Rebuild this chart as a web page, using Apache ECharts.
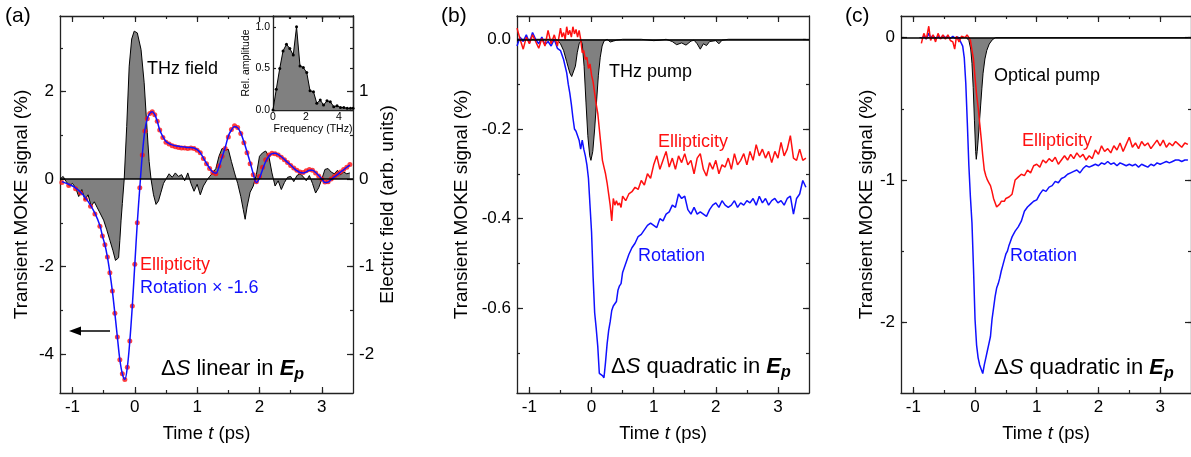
<!DOCTYPE html>
<html><head><meta charset="utf-8">
<script src="https://cdn.jsdelivr.net/npm/echarts@6/dist/echarts.min.js"></script>
<style>html,body{margin:0;padding:0;background:#fff}#c{width:1191px;height:457px}</style>
</head><body><div id="c"></div>
<script>
// ---------------- DATA ----------------
// Panel (a): time (ps), value (%)
const ellipticityA = [[-1.17,-0.08],[-1.06,-0.15],[-0.95,-0.22],[-0.87,-0.32],[-0.79,-0.46],[-0.71,-0.62],[-0.64,-0.8],[-0.56,-1.08],
[-0.52,-1.3],[-0.48,-1.5],[-0.44,-1.78],[-0.40,-2.14],[-0.36,-2.56],[-0.32,-3.07],[-0.28,-3.61],[-0.24,-4.13],[-0.20,-4.45],[-0.16,-4.58],[-0.12,-4.3],[-0.08,-3.7],[-0.04,-2.9],[0.0,-1.95],[0.04,-1.0],[0.08,-0.2],[0.12,0.55],[0.16,1.1],[0.20,1.38],[0.24,1.5],[0.28,1.54],[0.32,1.47],[0.36,1.32],[0.40,1.12],
[0.45,0.95],[0.5,0.84],[0.55,0.8],[0.6,0.76],[0.65,0.74],[0.7,0.72],[0.75,0.71],[0.8,0.71],[0.85,0.7],[0.9,0.71],[0.95,0.7],[1.0,0.66],[1.05,0.6],[1.1,0.47],[1.15,0.35],[1.2,0.24],[1.25,0.15],[1.3,0.12],[1.35,0.3],[1.4,0.52],[1.45,0.7],[1.5,0.96],[1.55,1.13],[1.6,1.22],[1.65,1.18],[1.7,1.04],[1.75,0.83],[1.8,0.6],[1.85,0.35],[1.9,0.1],[1.95,-0.06],[2.0,0.06],[2.05,0.27],[2.1,0.44],[2.15,0.55],[2.2,0.59],[2.25,0.58],[2.3,0.55],[2.35,0.5],[2.4,0.44],[2.45,0.38],[2.5,0.31],[2.55,0.25],[2.6,0.2],[2.65,0.16],[2.7,0.15],[2.75,0.19],[2.8,0.22],[2.85,0.2],[2.9,0.14],[2.95,0.07],[3.0,0.0],[3.05,-0.07],[3.1,-0.06],[3.15,0.0],[3.2,0.06],[3.25,0.11],[3.3,0.16],[3.35,0.22],[3.4,0.27],[3.45,0.33]];
const rotationA = [[-1.17,-0.06],[-1.06,-0.12],[-0.95,-0.2],[-0.87,-0.3],[-0.79,-0.43],[-0.71,-0.6],[-0.64,-0.78],[-0.56,-1.06],
[-0.52,-1.3],[-0.48,-1.5],[-0.44,-1.78],[-0.40,-2.14],[-0.36,-2.56],[-0.32,-3.07],[-0.28,-3.61],[-0.24,-4.13],[-0.20,-4.45],[-0.16,-4.58],[-0.12,-4.3],[-0.08,-3.7],[-0.04,-2.9],[0.0,-1.95],[0.04,-1.0],[0.08,-0.2],[0.12,0.55],[0.16,1.1],[0.20,1.38],[0.24,1.5],[0.28,1.54],[0.32,1.47],[0.36,1.32],[0.40,1.12],
[0.45,0.97],[0.5,0.86],[0.55,0.81],[0.6,0.78],[0.65,0.76],[0.7,0.75],[0.75,0.74],[0.8,0.73],[0.85,0.72],[0.9,0.72],[0.95,0.71],[1.0,0.67],[1.05,0.6],[1.1,0.48],[1.15,0.36],[1.2,0.25],[1.25,0.16],[1.3,0.13],[1.35,0.28],[1.4,0.5],[1.45,0.72],[1.5,0.98],[1.55,1.12],[1.6,1.2],[1.65,1.17],[1.7,1.05],[1.75,0.85],[1.8,0.62],[1.85,0.38],[1.9,0.12],[1.95,-0.08],[2.0,0.02],[2.05,0.22],[2.1,0.4],[2.15,0.52],[2.2,0.58],[2.25,0.59],[2.3,0.56],[2.35,0.51],[2.4,0.45],[2.45,0.38],[2.5,0.32],[2.55,0.25],[2.6,0.19],[2.65,0.15],[2.7,0.14],[2.75,0.16],[2.8,0.2],[2.85,0.2],[2.9,0.15],[2.95,0.08],[3.0,0.0],[3.05,-0.08],[3.1,-0.07],[3.15,-0.01],[3.2,0.05],[3.25,0.1],[3.3,0.16],[3.35,0.21],[3.4,0.27],[3.45,0.32]];
// THz electric field (arb. units, right axis)
const fieldA = [[-1.2,0.0],[-1.15,0.03],[-1.1,-0.03],[-1.05,-0.08],[-1.0,-0.05],[-0.95,-0.1],[-0.9,-0.2],[-0.85,-0.12],[-0.8,-0.24],[-0.75,-0.18],[-0.7,-0.31],[-0.65,-0.26],[-0.6,-0.33],[-0.55,-0.4],[-0.5,-0.47],[-0.45,-0.58],[-0.4,-0.7],[-0.35,-0.82],[-0.31,-0.93],[-0.29,-0.945],[-0.26,-0.9],[-0.24,-0.7],[-0.22,-0.47],[-0.2,-0.28],[-0.17,0.0],[-0.13,0.6],[-0.09,1.29],[-0.05,1.6],[-0.01,1.69],[0.04,1.67],[0.1,1.48],[0.15,1.1],[0.2,0.53],[0.23,0.2],[0.26,0.0],[0.3,-0.18],[0.34,-0.29],[0.38,-0.25],[0.42,-0.15],[0.46,-0.05],[0.5,0.0],[0.55,0.06],[0.6,0.02],[0.65,0.07],[0.7,0.03],[0.75,0.05],[0.8,-0.02],[0.85,0.07],[0.9,-0.05],[0.95,-0.14],[1.0,-0.06],[1.05,-0.18],[1.1,-0.08],[1.15,-0.02],[1.2,0.03],[1.25,0.07],[1.3,0.12],[1.35,0.26],[1.4,0.35],[1.45,0.33],[1.5,0.34],[1.55,0.2],[1.6,0.07],[1.65,-0.05],[1.7,-0.2],[1.74,-0.35],[1.77,-0.46],[1.8,-0.32],[1.85,-0.15],[1.9,-0.08],[1.95,0.05],[2.0,0.26],[2.05,0.3],[2.1,0.32],[2.15,0.26],[2.2,0.07],[2.25,-0.08],[2.3,-0.02],[2.35,-0.12],[2.4,-0.04],[2.45,0.02],[2.5,0.03],[2.55,-0.03],[2.6,0.04],[2.65,0.06],[2.7,0.03],[2.75,-0.02],[2.8,0.04],[2.85,-0.05],[2.9,-0.16],[2.95,-0.1],[3.0,0.0],[3.05,0.11],[3.1,0.12],[3.15,0.08],[3.2,0.06],[3.25,0.1],[3.3,0.05],[3.35,0.08],[3.4,0.06],[3.45,0.07]];
// Inset: frequency (THz), relative amplitude
const spectrumA = [[0,0],[0.2,0.25],[0.41,0.5],[0.61,0.71],[0.82,0.79],[1.02,0.74],[1.23,0.66],[1.43,1.0],[1.64,0.53],[1.84,0.51],[2.05,0.45],[2.25,0.23],[2.46,0.22],[2.66,0.08],[2.87,0.12],[3.07,0.06],[3.28,0.11],[3.48,0.1],[3.69,0.04],[3.89,0.05],[4.1,0.03],[4.3,0.03],[4.51,0.02],[4.71,0.02],[4.86,0.02]];

// Panel (b)
const ellipticityB = [[-1.2,0.025],[-1.15,0.0],[-1.1,-0.022],[-1.05,0.005],[-1.0,-0.01],[-0.95,0.01],[-0.9,-0.005],[-0.85,-0.02],[-0.8,0.002],[-0.75,-0.015],[-0.7,0.02],[-0.65,-0.01],[-0.6,0.01],[-0.55,-0.015],[-0.5,0.025],[-0.475,0.005],[-0.45,0.015],[-0.425,0.0],[-0.4,0.028],[-0.375,0.01],[-0.35,0.02],[-0.325,0.005],[-0.3,0.028],[-0.275,0.012],[-0.25,0.022],[-0.225,0.005],[-0.2,0.02],[-0.175,0.0],[-0.15,-0.03],[-0.125,-0.025],[-0.1,-0.045],[-0.075,-0.04],[-0.05,-0.065],[-0.025,-0.055],[0.0,-0.08],[0.025,-0.095],[0.05,-0.12],[0.075,-0.145],[0.1,-0.165],[0.125,-0.2],[0.15,-0.235],[0.175,-0.27],[0.2,-0.285],[0.225,-0.3],[0.25,-0.32],[0.275,-0.345],[0.3,-0.37],[0.325,-0.405],[0.35,-0.355],[0.375,-0.37],[0.4,-0.36],[0.425,-0.37],[0.45,-0.365],[0.475,-0.375],[0.5,-0.35],
[0.55,-0.36],[0.6,-0.345],[0.65,-0.34],[0.7,-0.33],[0.75,-0.335],[0.8,-0.315],[0.85,-0.325],[0.9,-0.3],[0.95,-0.31],[1.0,-0.28],[1.05,-0.26],[1.1,-0.29],[1.15,-0.27],[1.2,-0.25],[1.25,-0.285],[1.3,-0.265],[1.35,-0.29],[1.4,-0.26],[1.45,-0.275],[1.5,-0.255],[1.55,-0.28],[1.6,-0.27],[1.65,-0.3],[1.7,-0.265],[1.75,-0.255],[1.8,-0.29],[1.85,-0.305],[1.9,-0.275],[1.95,-0.29],[2.0,-0.27],[2.05,-0.3],[2.1,-0.28],[2.15,-0.285],[2.2,-0.265],[2.25,-0.29],[2.3,-0.255],[2.35,-0.28],[2.4,-0.27],[2.45,-0.255],[2.5,-0.28],[2.55,-0.25],[2.6,-0.27],[2.65,-0.235],[2.7,-0.26],[2.75,-0.245],[2.8,-0.265],[2.85,-0.25],[2.9,-0.275],[2.95,-0.25],[3.0,-0.265],[3.05,-0.23],[3.1,-0.26],[3.15,-0.245],[3.2,-0.215],[3.25,-0.265],[3.3,-0.27],[3.35,-0.245],[3.4,-0.27],[3.45,-0.265]];
const rotationB = [[-1.2,-0.015],[-1.15,0.005],[-1.1,-0.005],[-1.05,0.01],[-1.0,-0.008],[-0.95,0.015],[-0.9,0.0],[-0.85,-0.01],[-0.8,0.005],[-0.75,-0.012],[-0.7,-0.005],[-0.65,-0.015],[-0.6,0.0],[-0.55,-0.02],[-0.5,-0.025],[-0.475,-0.035],[-0.45,-0.045],[-0.425,-0.06],[-0.4,-0.075],[-0.375,-0.1],[-0.35,-0.12],[-0.325,-0.145],[-0.3,-0.175],[-0.275,-0.2],[-0.25,-0.205],[-0.225,-0.215],[-0.2,-0.225],[-0.175,-0.245],[-0.15,-0.225],[-0.125,-0.245],[-0.1,-0.26],[-0.075,-0.28],[-0.05,-0.31],[-0.025,-0.37],[0.0,-0.43],[0.025,-0.53],[0.05,-0.61],[0.075,-0.645],[0.1,-0.685],[0.125,-0.745],[0.15,-0.745],[0.175,-0.75],[0.2,-0.755],[0.225,-0.72],[0.25,-0.68],[0.275,-0.65],[0.3,-0.63],[0.325,-0.605],[0.35,-0.595],[0.375,-0.59],[0.4,-0.585],[0.425,-0.56],[0.45,-0.55],[0.475,-0.545],[0.5,-0.52],
[0.55,-0.5],[0.6,-0.48],[0.65,-0.465],[0.7,-0.455],[0.75,-0.44],[0.8,-0.435],[0.85,-0.425],[0.9,-0.415],[0.95,-0.41],[1.0,-0.415],[1.05,-0.42],[1.1,-0.4],[1.15,-0.405],[1.2,-0.39],[1.25,-0.385],[1.3,-0.37],[1.35,-0.375],[1.4,-0.345],[1.45,-0.355],[1.5,-0.35],[1.55,-0.38],[1.6,-0.39],[1.65,-0.375],[1.7,-0.39],[1.75,-0.385],[1.8,-0.39],[1.85,-0.395],[1.9,-0.38],[1.95,-0.37],[2.0,-0.365],[2.05,-0.375],[2.1,-0.36],[2.15,-0.37],[2.2,-0.375],[2.25,-0.37],[2.3,-0.36],[2.35,-0.375],[2.4,-0.365],[2.45,-0.37],[2.5,-0.36],[2.55,-0.365],[2.6,-0.355],[2.65,-0.37],[2.7,-0.35],[2.75,-0.365],[2.8,-0.355],[2.85,-0.37],[2.9,-0.36],[2.95,-0.355],[3.0,-0.365],[3.05,-0.36],[3.1,-0.37],[3.15,-0.355],[3.2,-0.35],[3.25,-0.39],[3.3,-0.355],[3.35,-0.345],[3.4,-0.315],[3.45,-0.33]];
const pumpB = [[-1.2,0],[-0.6,0],[-0.55,-0.002],[-0.5,-0.01],[-0.45,-0.025],[-0.4,-0.05],[-0.35,-0.075],[-0.32,-0.083],[-0.29,-0.08],[-0.26,-0.06],[-0.23,-0.03],[-0.2,-0.01],[-0.17,-0.003],[-0.15,-0.01],[-0.12,-0.06],[-0.09,-0.14],[-0.06,-0.215],[-0.03,-0.26],[-0.01,-0.27],[0.02,-0.25],[0.05,-0.2],[0.08,-0.14],[0.11,-0.08],[0.14,-0.04],[0.17,-0.015],[0.2,-0.004],[0.25,0],[0.3,-0.006],[0.35,-0.004],[0.4,-0.002],[0.5,0],[0.8,0],[1.0,-0.003],[1.1,-0.002],[1.2,0],[1.3,-0.005],[1.37,-0.012],[1.45,-0.008],[1.52,-0.013],[1.6,-0.004],[1.65,-0.002],[1.7,-0.01],[1.75,-0.022],[1.8,-0.01],[1.85,-0.014],[1.9,-0.005],[2.0,-0.003],[2.05,-0.01],[2.1,-0.002],[2.2,0],[3.45,0]];

// Panel (c)
const ellipticityC = [[-0.87,-0.04],[-0.83,0.03],[-0.79,-0.01],[-0.75,0.08],[-0.72,-0.02],[-0.68,0.02],[-0.64,-0.03],[-0.6,0.03],[-0.56,-0.01],[-0.52,0.02],[-0.48,-0.01],[-0.44,0.02],[-0.4,-0.02],[-0.36,-0.03],[-0.33,-0.08],[-0.3,0.01],[-0.26,-0.03],[-0.22,0.01],[-0.19,0.02],[-0.16,0.0],[-0.13,0.02],[-0.1,0.0],[-0.075,-0.02],[-0.05,-0.09],[-0.025,-0.15],[0.0,-0.28],[0.025,-0.4],[0.05,-0.49],[0.075,-0.6],[0.1,-0.71],[0.125,-0.83],[0.15,-0.93],[0.175,-0.97],[0.2,-1.0],[0.225,-1.02],[0.25,-1.04],[0.275,-1.08],[0.3,-1.13],[0.325,-1.16],[0.35,-1.19],[0.375,-1.2],[0.4,-1.17],[0.425,-1.15],[0.45,-1.14],[0.475,-1.15],[0.5,-1.13],[0.525,-1.14],[0.55,-1.12],[0.575,-1.13],[0.6,-1.1],
[0.65,-1.0],[0.7,-0.98],[0.75,-0.96],[0.8,-0.97],[0.85,-0.93],[0.9,-0.95],[0.95,-0.9],[1.0,-0.89],[1.05,-0.91],[1.1,-0.86],[1.15,-0.88],[1.2,-0.85],[1.25,-0.87],[1.3,-0.84],[1.35,-0.89],[1.4,-0.86],[1.45,-0.83],[1.5,-0.86],[1.55,-0.82],[1.6,-0.85],[1.65,-0.81],[1.7,-0.84],[1.75,-0.82],[1.8,-0.86],[1.85,-0.83],[1.9,-0.85],[1.95,-0.79],[2.0,-0.82],[2.05,-0.76],[2.1,-0.8],[2.15,-0.78],[2.2,-0.81],[2.25,-0.76],[2.3,-0.79],[2.35,-0.74],[2.4,-0.8],[2.45,-0.75],[2.5,-0.7],[2.55,-0.77],[2.6,-0.74],[2.65,-0.78],[2.7,-0.73],[2.75,-0.76],[2.8,-0.74],[2.85,-0.78],[2.9,-0.75],[2.95,-0.72],[3.0,-0.76],[3.05,-0.72],[3.1,-0.77],[3.15,-0.74],[3.2,-0.76],[3.25,-0.73],[3.3,-0.75],[3.35,-0.77],[3.4,-0.74],[3.45,-0.75]];
const rotationC = [[-0.87,-0.005],[-0.83,0.01],[-0.79,-0.01],[-0.75,0.03],[-0.72,0.0],[-0.68,0.015],[-0.64,-0.01],[-0.6,0.01],[-0.56,-0.005],[-0.52,0.015],[-0.48,0.0],[-0.44,0.01],[-0.4,-0.005],[-0.36,0.01],[-0.32,-0.005],[-0.28,0.005],[-0.25,-0.015],[-0.2,-0.06],[-0.175,-0.14],[-0.15,-0.32],[-0.125,-0.6],[-0.1,-0.9],[-0.075,-1.12],[-0.05,-1.3],[-0.025,-1.62],[0.0,-1.98],[0.025,-2.16],[0.05,-2.25],[0.075,-2.3],[0.1,-2.33],[0.125,-2.36],[0.15,-2.3],[0.175,-2.25],[0.2,-2.2],[0.225,-2.15],[0.25,-2.1],[0.275,-1.98],[0.3,-1.9],[0.325,-1.82],[0.35,-1.76],[0.375,-1.73],[0.4,-1.69],[0.425,-1.64],[0.45,-1.6],[0.475,-1.56],[0.5,-1.52],[0.525,-1.5],[0.55,-1.46],[0.575,-1.43],[0.6,-1.4],
[0.65,-1.36],[0.7,-1.33],[0.75,-1.29],[0.8,-1.22],[0.85,-1.19],[0.9,-1.17],[0.95,-1.15],[1.0,-1.14],[1.05,-1.1],[1.1,-1.07],[1.15,-1.08],[1.2,-1.05],[1.25,-1.04],[1.3,-1.01],[1.35,-1.02],[1.4,-0.99],[1.45,-0.98],[1.5,-0.96],[1.55,-0.95],[1.6,-0.94],[1.65,-0.93],[1.7,-0.95],[1.75,-0.92],[1.8,-0.9],[1.85,-0.91],[1.9,-0.9],[1.95,-0.89],[2.0,-0.9],[2.05,-0.88],[2.1,-0.89],[2.15,-0.87],[2.2,-0.89],[2.25,-0.88],[2.3,-0.9],[2.35,-0.88],[2.4,-0.89],[2.45,-0.9],[2.5,-0.89],[2.55,-0.9],[2.6,-0.89],[2.65,-0.91],[2.7,-0.89],[2.75,-0.9],[2.8,-0.91],[2.85,-0.89],[2.9,-0.9],[2.95,-0.88],[3.0,-0.89],[3.05,-0.88],[3.1,-0.87],[3.15,-0.88],[3.2,-0.87],[3.25,-0.86],[3.3,-0.86],[3.35,-0.87],[3.4,-0.86],[3.45,-0.86]];
const pumpC = [[-0.9,0],[-0.14,0],[-0.1,-0.02],[-0.07,-0.08],[-0.05,-0.18],[-0.03,-0.35],[-0.01,-0.58],[0.01,-0.8],[0.02,-0.855],[0.035,-0.8],[0.05,-0.72],[0.07,-0.6],[0.09,-0.48],[0.11,-0.36],[0.13,-0.25],[0.16,-0.15],[0.19,-0.09],[0.23,-0.045],[0.28,-0.015],[0.33,0],[3.45,0]];

// Ticks
const timeTicks = [-1, 0, 1, 2, 3];
const timeMinor = [-1, -0.5, 0, 0.5, 1, 1.5, 2, 2.5, 3];
const yTicksA = [-4, -2, 0, 2];
const yMinorA = [-4, -3, -2, -1, 0, 1, 2, 3];
const fieldTicksA = [-2, -1, 0, 1];
const fieldMinorA = [-2, -1.5, -1, -0.5, 0, 0.5, 1, 1.5];
const yTicksB = [-0.6, -0.4, -0.2, 0];
const yMinorB = [-0.7, -0.6, -0.5, -0.4, -0.3, -0.2, -0.1, 0];
const yTicksC = [-2, -1, 0];
const yMinorC = [-2, -1.5, -1, -0.5, 0];
const freqTicks = [0, 2, 4];
const freqMinor = [0, 1, 2, 3, 4];
const ampTicks = [0, 0.5, 1.0];

// ---------------- BUILD ----------------
const FONT = '"Liberation Sans", Arial, Helvetica, sans-serif';
const AX = '#222';
const xAxes = [], yAxes = [];
function ax(o) {
  const a = {
    gridIndex: o.gi, type: 'value', min: o.min, max: o.max, position: o.pos,
    axisLine: {show: !!o.line, onZero: false, lineStyle: {color: AX, width: 1.3}},
    axisTick: o.ticks ? {show: true, inside: true, length: o.len, customValues: o.ticks, lineStyle: {color: AX, width: 1.2}} : {show: false},
    axisLabel: o.labels ? {show: true, customValues: o.labels, formatter: o.fmt, fontSize: o.fs || 17, fontFamily: FONT, color: '#000', margin: o.margin || 6} : {show: false},
    splitLine: {show: false}
  };
  if (o.name) {
    a.name = o.name; a.nameLocation = 'middle'; a.nameGap = o.nameGap;
    if (o.nameRotate !== undefined) a.nameRotate = o.nameRotate;
    a.nameTextStyle = {fontSize: o.nfs || 18.5, fontFamily: FONT, color: '#000',
      rich: {i: {fontStyle: 'italic', fontSize: o.nfs || 18.5, fontFamily: FONT, color: '#000'}}};
  }
  return a;
}
const fmtInt = v => String(v);
const fmt1 = v => v.toFixed(1);
function frame(gi, yl, yr) {
  xAxes.push(ax({gi, min: -1.2, max: 3.5, pos: 'bottom', line: true, ticks: timeTicks, len: 6, labels: timeTicks, fmt: fmtInt,
    name: 'Time {i|t} (ps)', nameGap: 31}));
  xAxes.push(ax({gi, min: -1.2, max: 3.5, pos: 'bottom', ticks: timeMinor, len: 3}));
  xAxes.push(ax({gi, min: -1.2, max: 3.5, pos: 'top', line: true, ticks: timeTicks, len: 6}));
  xAxes.push(ax({gi, min: -1.2, max: 3.5, pos: 'top', ticks: timeMinor, len: 3}));
  yAxes.push(ax(Object.assign({gi, pos: 'left', line: true, len: 6}, yl)));
  yAxes.push(ax({gi, min: yl.min, max: yl.max, pos: 'left', ticks: yl.minor, len: 3}));
  yAxes.push(ax(Object.assign({gi, pos: 'right', line: true, len: 6}, yr)));
  yAxes.push(ax({gi, min: yr.min, max: yr.max, pos: 'right', ticks: yr.minor, len: 3}));
}
const MOKE = 'Transient MOKE signal (%)';
frame(0,
  {min: -4.89, max: 3.726, ticks: yTicksA, minor: yMinorA, labels: yTicksA, fmt: fmtInt, name: MOKE, nameGap: 29, nameRotate: 90, nfs: 19},
  {min: -2.445, max: 1.863, ticks: fieldTicksA, minor: fieldMinorA, labels: fieldTicksA, fmt: fmtInt, name: 'Electric field (arb. units)', nameGap: 24, nameRotate: 90, nfs: 19});
frame(1,
  {min: -0.789, max: 0.052, ticks: yTicksB, minor: yMinorB, labels: yTicksB, fmt: fmt1, name: MOKE, nameGap: 46, nameRotate: 90, nfs: 19},
  {min: -0.789, max: 0.052, ticks: yTicksB, minor: yMinorB});
frame(2,
  {min: -2.497, max: 0.152, ticks: yTicksC, minor: yMinorC, labels: yTicksC, fmt: fmtInt, name: MOKE, nameGap: 25, nameRotate: 90, nfs: 19},
  {min: -2.497, max: 0.152, ticks: yTicksC, minor: yMinorC});
// inset axes (index 12)
xAxes.push(ax({gi: 3, min: 0, max: 4.86, pos: 'bottom', line: true, ticks: freqMinor, len: 3, labels: freqTicks, fmt: fmtInt, fs: 10.5, margin: 2,
  name: 'Frequency (THz)', nameGap: 13, nfs: 10.5}));
xAxes.push(ax({gi: 3, min: 0, max: 4.86, pos: 'top', line: true, ticks: freqMinor, len: 3}));
yAxes.push(ax({gi: 3, min: 0, max: 1.13, pos: 'left', line: true, ticks: ampTicks, len: 3, labels: ampTicks, fmt: fmt1, fs: 10.5, margin: 3,
  name: 'Rel. amplitude', nameGap: 19, nameRotate: 90, nfs: 10.5}));
yAxes.push(ax({gi: 3, min: 0, max: 1.13, pos: 'right', line: true, ticks: ampTicks, len: 3}));

const RED = '#ff1010', BLUE = '#1010ff', GRAY = '#808080';
const zeroLine = {silent: true, symbol: ['none', 'none'], label: {show: false}, animation: false,
  lineStyle: {color: '#000', width: 1.5, type: 'solid'}, data: [{yAxis: 0}]};
function area(xi, yi, data, z) {
  return {type: 'line', xAxisIndex: xi, yAxisIndex: yi, data, showSymbol: false, z,
    lineStyle: {color: '#000', width: 1}, areaStyle: {color: GRAY, opacity: 1, origin: 'auto'}, markLine: zeroLine};
}
function curve(xi, yi, data, color, z, smooth) {
  return {type: 'line', xAxisIndex: xi, yAxisIndex: yi, data, showSymbol: false, z, smooth: smooth || false,
    lineStyle: {color, width: 1.5}, itemStyle: {color}};
}
const series = [
  area(0, 2, fieldA, 1),
  {type: 'scatter', xAxisIndex: 0, yAxisIndex: 0, data: ellipticityA, symbol: 'circle', symbolSize: 5, itemStyle: {color: RED}, z: 3},
  curve(0, 0, rotationA, BLUE, 4, 0.35),
  {type: 'line', xAxisIndex: 12, yAxisIndex: 12, data: spectrumA, symbol: 'circle', symbolSize: 3, showSymbol: true,
    lineStyle: {color: '#000', width: 1}, itemStyle: {color: '#000'}, areaStyle: {color: GRAY, opacity: 1}, z: 5},
  area(4, 4, pumpB, 1),
  curve(4, 4, rotationB, BLUE, 3),
  curve(4, 4, ellipticityB, RED, 4),
  area(8, 8, pumpC, 1),
  curve(8, 8, rotationC, BLUE, 3),
  curve(8, 8, ellipticityC, RED, 4)
];

function txt(x, y, text, color, size) {
  return {type: 'text', x, y, z: 100, style: {text, fill: color || '#000', font: `${size || 18}px ${FONT}`, align: 'left', verticalAlign: 'middle'}};
}
function dS(x, y, word) {
  const base = {fontSize: 22, fontFamily: FONT, fill: '#000'};
  return {type: 'text', x, y, z: 100, style: {
    text: `{n|Δ}{s|S}{n| ${word} in }{e|E}{p|p}`, verticalAlign: 'middle', align: 'left',
    rich: {
      n: base,
      s: Object.assign({}, base, {fontStyle: 'italic'}),
      e: Object.assign({}, base, {fontStyle: 'italic', fontWeight: 'bold'}),
      p: {fontSize: 16, fontFamily: FONT, fill: '#000', fontStyle: 'italic', fontWeight: 'bold', padding: [11, 0, 0, 0]}
    }}};
}
const graphic = [
  txt(5, 16, '(a)', '#000', 21), txt(441, 16, '(b)', '#000', 21), txt(845, 16, '(c)', '#000', 21),
  txt(147, 69, 'THz field'),
  txt(140, 265, 'Ellipticity', RED), txt(140, 288, 'Rotation × -1.6', BLUE),
  dS(161, 369, 'linear'),
  {type: 'line', z: 100, shape: {x1: 110, y1: 331, x2: 78, y2: 331}, style: {stroke: '#000', lineWidth: 1.5}},
  {type: 'polygon', z: 100, shape: {points: [[69, 331], [81, 326.5], [81, 335.5]]}, style: {fill: '#000'}},
  txt(609, 72, 'THz pump'),
  txt(658, 142, 'Ellipticity', RED), txt(638, 256, 'Rotation', BLUE),
  dS(611, 367, 'quadratic'),
  txt(994, 76, 'Optical pump'),
  txt(1022, 141, 'Ellipticity', RED), txt(1010, 256, 'Rotation', BLUE),
  dS(994, 368, 'quadratic')
];

const chart = echarts.init(document.getElementById('c'), null, {renderer: 'canvas'});
chart.setOption({
  animation: false,
  backgroundColor: '#fff',
  grid: [
    {left: 60, top: 16, width: 293, height: 377},
    {left: 517, top: 16, width: 292, height: 377},
    {left: 901, top: 16, width: 292, height: 377},
    {left: 273, top: 16, width: 80, height: 94}
  ],
  xAxis: xAxes, yAxis: yAxes, series, graphic
});
</script></body></html>
